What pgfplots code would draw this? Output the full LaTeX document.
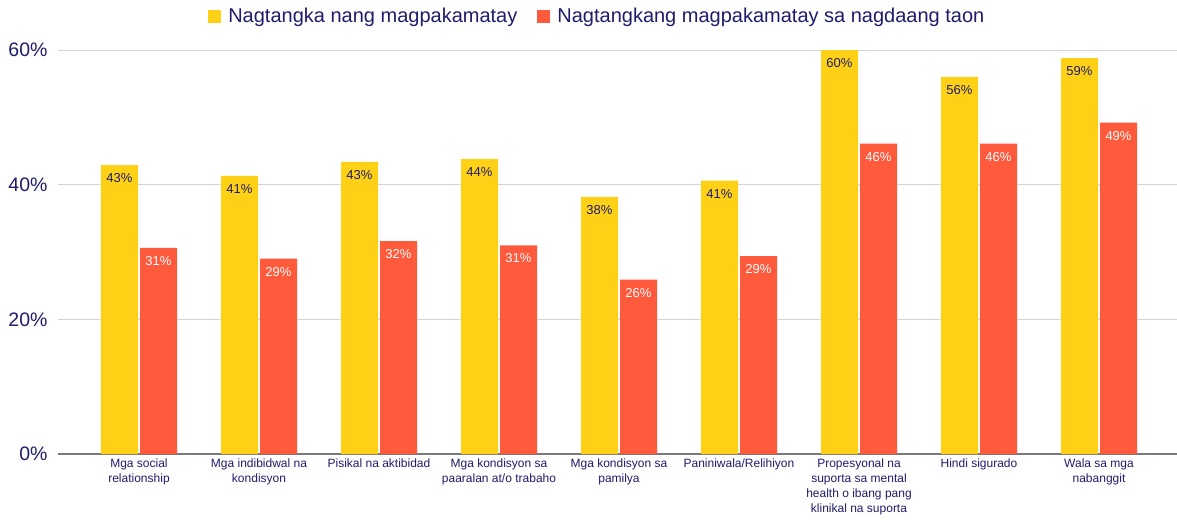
\documentclass[border=0pt]{standalone}
\usepackage{fontspec}
\setmainfont{Liberation Sans}
\usepackage{pgfplots}
\pgfplotsset{compat=1.18}

\definecolor{gyellow}{HTML}{FFD116}
\definecolor{gred}{HTML}{FF5A3C}
\definecolor{navy}{HTML}{1F1C6B}
\definecolor{gridgray}{HTML}{D4D4D4}
\definecolor{basegray}{HTML}{7A7A7A}

\pgfplotsset{
  legsq/.style={legend image code/.code={\fill[##1,draw=none] (0pt,-6.5pt) rectangle (13pt,6.5pt);}}
}

\begin{document}
\begin{tikzpicture}
\begin{axis}[
  name=ax,
  scale only axis,
  width=1119pt, height=404pt,
  ybar=2pt, bar width=37pt,
  xmin=-0.675, xmax=8.65,
  ymin=0, ymax=60,
  clip=false,
  xtick={0,...,8},
  xticklabels={
    {Mga social\\relationship},
    {Mga indibidwal na\\kondisyon},
    {Pisikal na aktibidad},
    {Mga kondisyon sa\\paaralan at/o trabaho},
    {Mga kondisyon sa\\pamilya},
    {Paniniwala/Relihiyon},
    {Propesyonal na\\suporta sa mental\\health o ibang pang\\klinikal na suporta},
    {Hindi sigurado},
    {Wala sa mga\\nabanggit}},
  xticklabel style={align=center, font=\fontsize{12}{15}\selectfont, text=navy, anchor=north, yshift=-1pt},
  ytick={0,20,40,60},
  yticklabel={\pgfmathprintnumber{\tick}\%},
  yticklabel style={font=\fontsize{19.5}{22}\selectfont, text=navy, xshift=-7pt},
  /pgf/number format/assume math mode=true,
  major tick length=0pt,
  ymajorgrids,
  grid style={gridgray, line width=1pt},
  axis x line*=bottom, axis y line*=left,
  axis line style={-},
  y axis line style={draw=none},
  x axis line style={draw=basegray, line width=1.5pt},
  nodes near coords={\pgfmathprintnumber[fixed,precision=0]{\pgfplotspointmeta}\%},
  every node near coord/.append style={anchor=center, yshift=-13pt, font=\fontsize{13}{15}\selectfont},
  legend columns=2,
  legend style={at={(0.482,1.084)}, anchor=center, draw=none, fill=none,
    font=\fontsize{20}{22}\selectfont, text=navy,
    /tikz/every odd column/.append style={column sep=5pt},
    /tikz/every even column/.append style={column sep=18pt}},
]
\addplot+[legsq, fill=gyellow, draw=none, every node near coord/.append style={text=navy}] coordinates {
(0,42.9)(1,41.3)(2,43.4)(3,43.8)(4,38.2)(5,40.6)(6,60.0)(7,56.0)(8,58.8)
};
\addplot+[legsq, fill=gred, draw=none, every node near coord/.append style={text=white}] coordinates {
(0,30.6)(1,29.0)(2,31.6)(3,31.0)(4,25.9)(5,29.4)(6,46.1)(7,46.1)(8,49.2)
};
\legend{Nagtangka nang magpakamatay, Nagtangkang magpakamatay sa nagdaang taon}
\end{axis}
\pgfresetboundingbox
\path ([shift={(-58pt,-65pt)}]ax.south west) rectangle ([shift={(0pt,50pt)}]ax.north east);
\end{tikzpicture}
\end{document}
